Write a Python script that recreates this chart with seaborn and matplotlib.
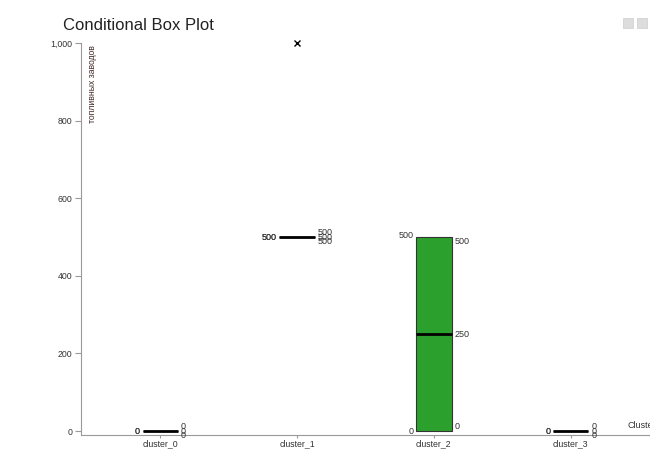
import numpy as np
import pandas as pd
import seaborn as sns
import matplotlib.pyplot as plt
from matplotlib.ticker import StrMethodFormatter
from matplotlib.patches import Rectangle

# data
clusters = ["cluster_0", "cluster_1", "cluster_2", "cluster_3"]
values_0 = [0, 0, 0, 0, 0]
values_1 = [500, 500, 500, 500, 1000]
values_2 = [0, 0, 250, 500, 500]
values_3 = [0, 0, 0, 0, 0]
y_label = "топливных заводов"
y_ticks = [0, 200, 400, 600, 800, 1000]

sns.set_style("white")
plt.rcParams['font.family'] = ['Liberation Sans', 'DejaVu Sans']

df = pd.DataFrame({
    "cluster": np.repeat(clusters, 5),
    "value": values_0 + values_1 + values_2 + values_3,
})

fig = plt.figure(figsize=(6.5, 4.5), dpi=100)
ax = fig.add_axes([81 / 650, 15 / 450, 1 - 81 / 650, 392 / 450])

sns.boxplot(data=df, x="cluster", y="value", ax=ax, color="#2ca02c",
            width=0.26, linecolor="#333333", linewidth=0.8, showcaps=False,
            whis=1.5, saturation=1,
            flierprops=dict(marker="x", markeredgecolor="black", markersize=5, markeredgewidth=1),
            medianprops=dict(color="black", linewidth=2))
for ln in ax.lines:
    ln.set_clip_on(False)

ax.set_xlim(-0.58, 3.58)
ax.set_ylim(-10, 1000)
ax.set_yticks(y_ticks)
ax.yaxis.set_major_formatter(StrMethodFormatter("{x:,.0f}"))
ax.set_xlabel("")
ax.set_ylabel("")
for side in ["top", "right"]:
    ax.spines[side].set_visible(False)
for side in ["left", "bottom"]:
    ax.spines[side].set_color("#999999")
    ax.spines[side].set_linewidth(0.8)
ax.tick_params(axis="both", labelsize=6.3, colors="#999999", labelcolor="#333333",
               length=4, width=0.8, direction="out", left=True, bottom=True)
ax.tick_params(axis="x", length=2.5, pad=0.5)
ax.tick_params(axis="y", pad=2)

ax.text(0.012, 0.995, y_label, transform=ax.transAxes, rotation=90,
        ha="left", va="top", fontsize=6.2, color="#402828")

# value labels beside each box
for i, vals in enumerate([values_0, values_1, values_2, values_3]):
    v = np.array(vals)
    q1, med, q3 = np.percentile(v, [25, 50, 75])
    iqr = q3 - q1
    lo = v[v >= q1 - 1.5 * iqr].min()
    hi = v[v <= q3 + 1.5 * iqr].max()
    xl = i - 0.15
    xr = i + 0.15
    kw = dict(fontsize=6.5, color="#333333")
    ax.text(xl, hi + (4 if hi != lo else 0), f"{hi:g}", ha="right", va="center", **kw)
    ax.text(xl, lo, f"{lo:g}", ha="right", va="center", **kw)
    ax.text(xr, q3, f"{q3:g}", ha="left", va="top", **kw)
    ax.text(xr, med, f"{med:g}", ha="left", va="center", **kw)
    ax.text(xr, q1, f"{q1:g}", ha="left", va="bottom", **kw)

fig.text(63 / 650, 1 - 25 / 450, "Conditional Box Plot", fontsize=12,
         ha="left", va="center", color="#222222")
fig.text(628 / 650, 1 - 425 / 450, "Cluster", fontsize=6.5, ha="left",
         va="center", color="#333333")

# toolbar icons top right
for x0 in [623, 637]:
    fig.patches.append(Rectangle((x0 / 650, 1 - 28 / 450), 10 / 650, 10 / 450,
                                 transform=fig.transFigure, facecolor="#dddddd",
                                 edgecolor="#cccccc", linewidth=0.5))

fig.savefig("out.png", dpi=100)
